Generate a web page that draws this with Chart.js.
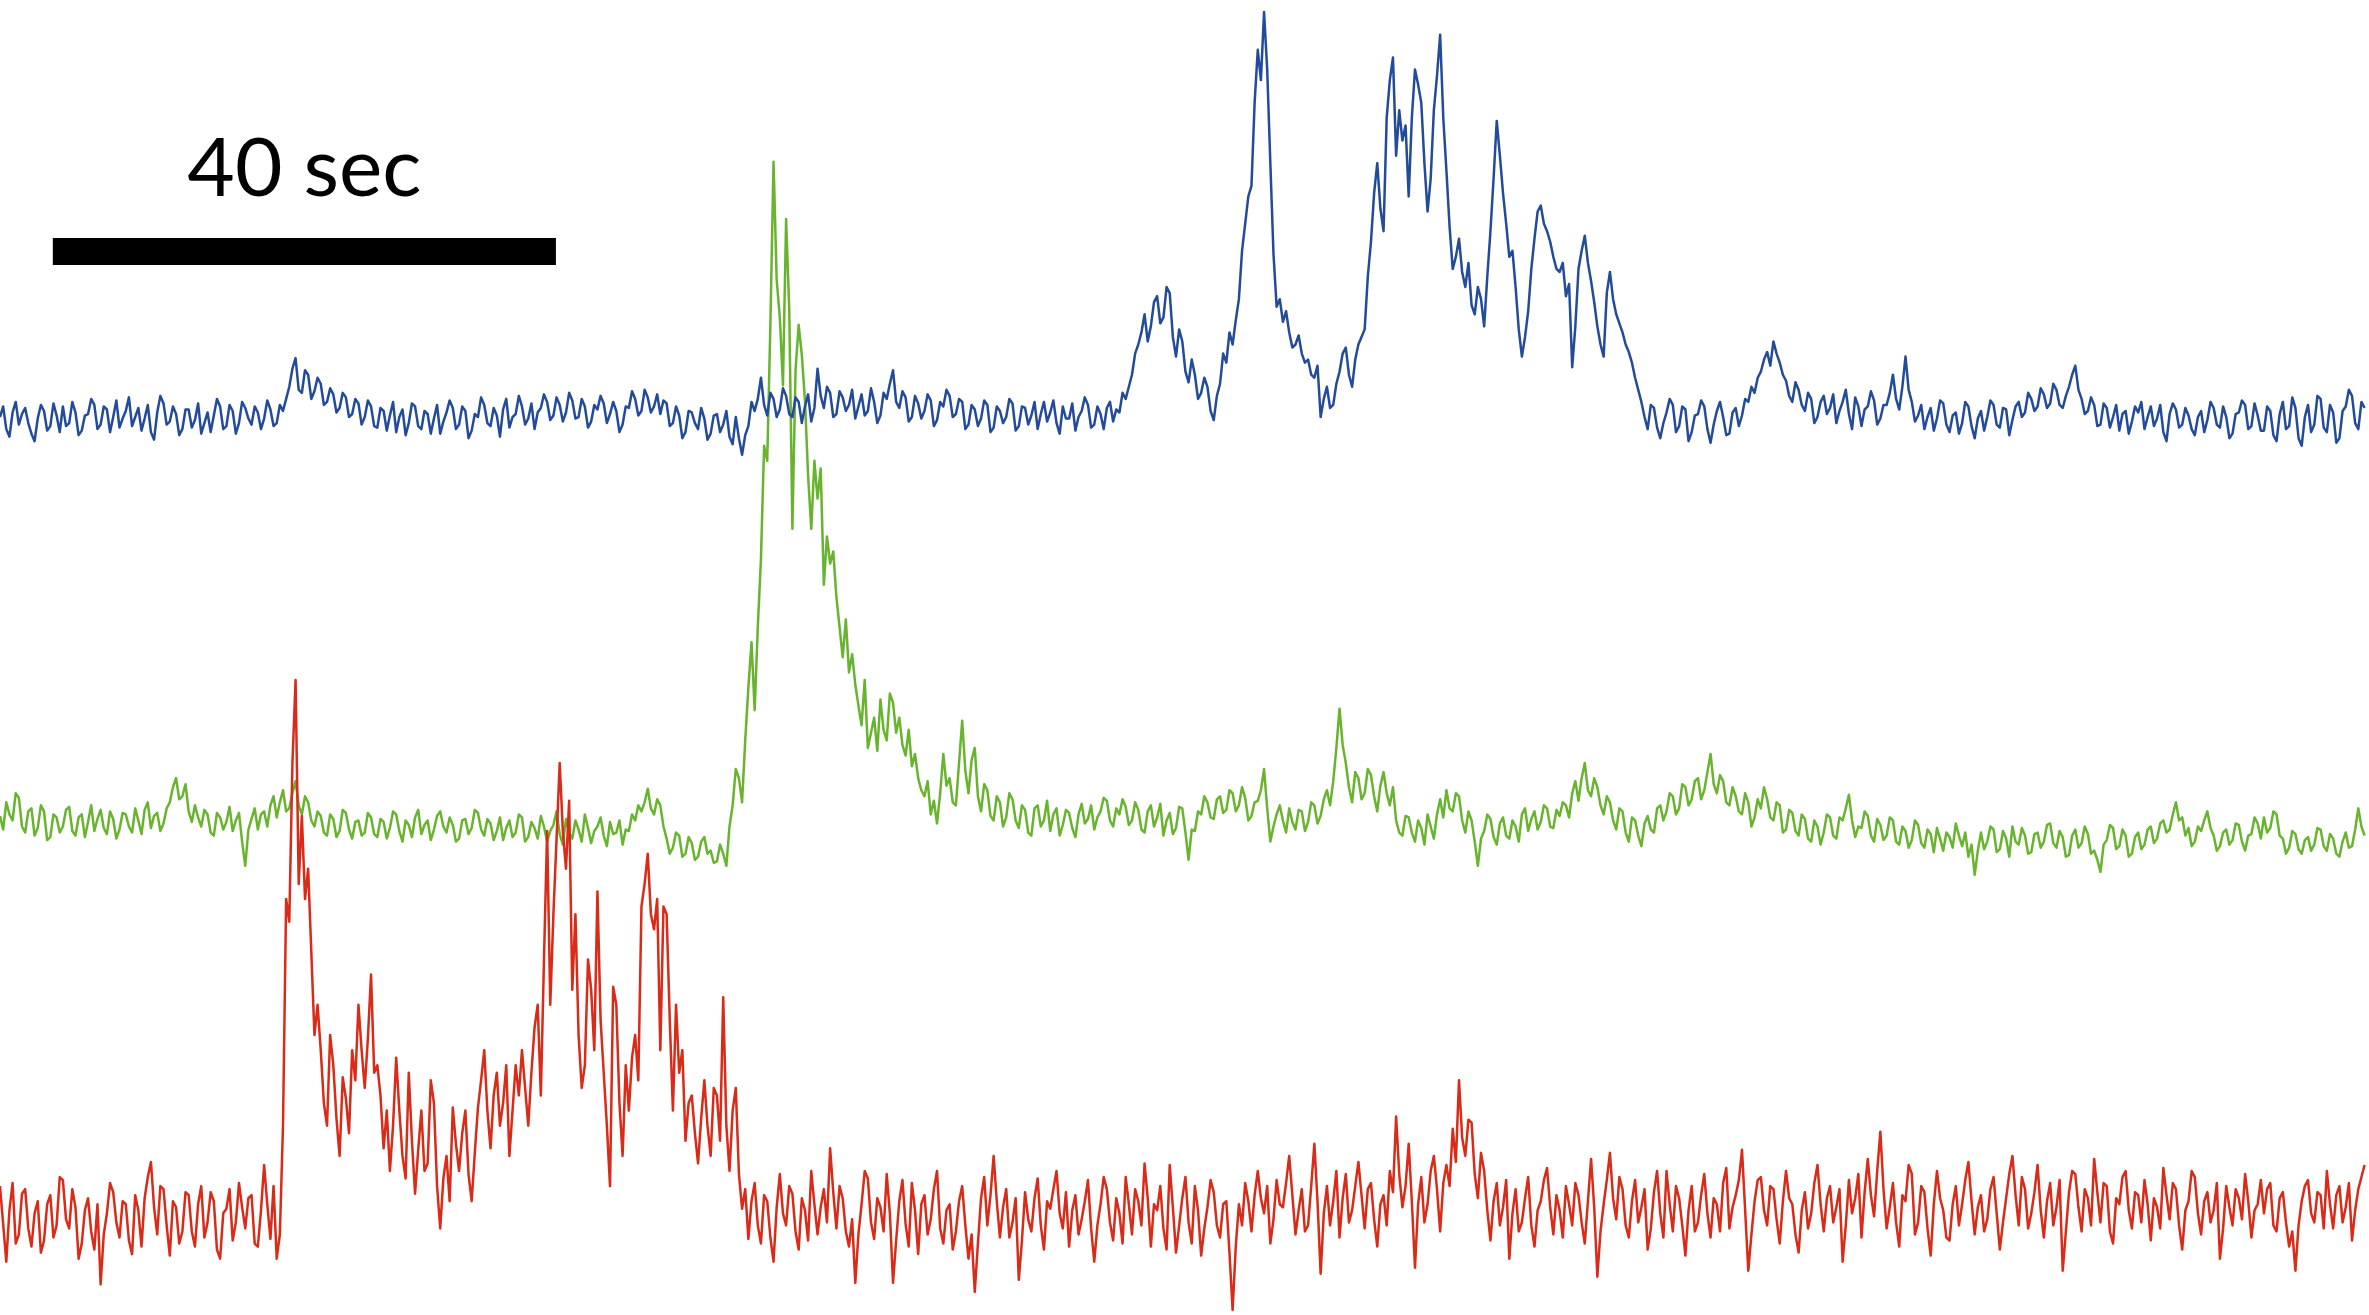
<!DOCTYPE html>
<html>
<head>
<meta charset="utf-8">
<title>Traces</title>
<script src="https://cdn.jsdelivr.net/npm/chart.js@4.4.1/dist/chart.umd.min.js"></script>
<style>
    html, body { margin: 0; padding: 0; background: #ffffff; }
    #wrap { position: relative; width: 2369px; height: 1315px; }
</style>
</head>
<body>
<div id="wrap"><canvas id="traceChart"></canvas></div>
<script>
// --- Data ---
// one sample every 0.25 s, values are signal height above each trace's baseline
const sampleStep = 0.25;

const blueTrace = [
    2, 9, -6, -11, 5, 12, -3, 4, 8, -2, -9, -14, 1, 10, 6, -7, -4, 11, 3, -8,
    9, -4, -2, 12, 5, -10, -7, 3, 4, 14, 10, -6, -3, 9, 7, -8, 2, 13, -5, 1,
    6, 15, -4, 2, 8, -7, 1, 10, -8, -13, 5, 16, 11, -3, -1, 9, 4, -10, -6, 7,
    7, -5, 0, 11, -9, -2, 5, -8, 3, 14, 9, -6, -4, 10, 6, -9, -2, 12, 8, 1,
    -3, 9, 5, -6, 1, 13, 7, -4, -2, 10, 6, 14, 22, 34, 41, 20, 18, 33, 30, 14,
    19, 28, 24, 10, 12, 21, 17, 5, 8, 18, 15, 2, 4, 14, 11, -3, 2, 13, 9, -4,
    -5, 8, 6, -7, 3, 12, -8, 2, 7, -10, -2, 11, 9, -4, -6, 6, 4, -9, 1, 10,
    -9, -1, 5, 13, 8, -6, -3, 9, 6, -12, -7, 4, 2, 15, 10, -2, -4, 8, 3, -11,
    7, 14, -5, 2, 4, 16, 9, -3, 1, 11, -6, 5, 8, 17, 12, 0, 3, 15, 10, -1,
    5, 18, 13, 1, 2, 14, 9, -5, -1, 10, 7, 16, 11, -2, 4, 12, 6, -8, -3, 9,
    8, 19, 14, 3, 6, 20, 15, 5, 9, 17, 4, 13, 11, -4, -2, 9, 3, -12, -8, 6,
    5, -2, -6, 8, 1, -13, -9, 3, 4, -8, -3, 6, -11, -16, 2, -12, -23, -10, -4, 12,
    6, 14, 28, 10, 3, 18, 14, 2, 7, 21, 16, 4, 2, 15, 12, -2, 9, 17, -1, 8,
    34, 16, 8, 22, 18, 2, 4, 19, 15, 6, 10, 20, 1, 9, 17, 3, 6, 21, 12, -2,
    3, 18, 14, 24, 33, 12, 8, 19, 15, -1, 2, 16, 11, 1, 6, 17, 13, -4, 0, 12,
    9, 20, 16, 2, 4, 14, 12, -6, -3, 10, 7, -4, 1, 13, 10, -8, -5, 9, 6, -2,
    2, 14, 11, -7, -4, 9, 8, -3, 3, 12, -6, 4, 12, -1, 5, 13, -2, -9, 9, 1,
    1, 11, -7, 2, 6, 15, 10, -5, -3, 9, 4, -6, 8, 12, -1, 7, 5, 18, 14, 22,
    30, 44, 50, 58, 70, 52, 62, 78, 82, 64, 68, 88, 84, 55, 42, 60, 52, 32, 25, 40,
    30, 14, 18, 28, 22, 6, 0, 16, 24, 44, 38, 58, 50, 66, 80, 112, 130, 148, 155, 210,
    245, 225, 270, 232, 170, 110, 75, 80, 65, 72, 58, 48, 50, 56, 44, 38, 40, 30, 28, 36,
    2, 14, 22, 8, 10, 24, 32, 44, 48, 30, 22, 40, 50, 55, 60, 95, 118, 150, 170, 140,
    125, 200, 225, 240, 175, 205, 185, 195, 148, 200, 232, 222, 210, 170, 138, 160, 205, 228, 255, 200,
    165, 128, 100, 108, 120, 98, 88, 104, 76, 70, 88, 80, 62, 95, 125, 160, 198, 175, 150, 130,
    108, 112, 88, 60, 42, 55, 72, 100, 120, 138, 142, 130, 125, 118, 108, 100, 98, 104, 82, 90,
    35, 62, 100, 112, 122, 104, 92, 78, 62, 50, 42, 84, 98, 80, 70, 64, 58, 50, 45, 38,
    28, 20, 12, 2, -6, 10, 8, -5, -12, -2, 5, 14, 10, -8, -4, 9, 7, -14, -8, 3,
    4, 13, 9, -6, -15, -3, 6, 12, 2, -10, -9, 5, 8, -4, 3, 14, 12, 22, 18, 28,
    32, 40, 45, 36, 52, 44, 38, 30, 26, 16, 12, 25, 20, 10, 6, 18, 14, -2, 2, 12,
    16, 4, 8, 17, -2, 6, 12, 20, 4, -6, 15, 9, -4, 7, 9, 19, 13, -3, 1, 10,
    10, 18, 30, 14, 7, 22, 42, 20, 12, -1, 3, 10, -6, 2, 8, -7, 1, 13, 11, -3,
    -8, 3, 5, -9, -2, 12, 9, -4, -12, 1, 6, -7, 2, 13, 10, -3, -5, 8, 7, -10,
    0, 9, 12, 2, 5, 18, 14, 6, 9, 21, 17, 8, 11, 24, 20, 10, 8, 16, 22, 30,
    36, 20, 14, 4, 6, 15, 10, -4, -3, 11, 8, -5, 2, 10, -7, 4, 6, -9, -1, 9,
    5, 12, -6, 2, 9, -4, 1, 10, -8, -14, 4, 11, 7, -5, -3, 8, 3, -6, -10, 2,
    6, -8, 0, 12, 8, -3, -5, 9, 2, -12, -9, 4, 5, 13, 10, -6, -4, 11, 3, -7,
    -7, 9, 6, -10, -14, 4, 12, -6, -4, 15, 8, -12, -17, 2, 10, -8, -3, 16, 14, -5,
    -8, 10, 5, -15, -12, 6, 9, 20, 16, -2, -6, 12, 8
];

const greenTrace = [
    5, -4, 14, 6, 2, 20, 17, -2, -6, 8, 10, -8, -3, 12, 8, -11, -9, 6, 4, -6,
    -2, 9, 11, -5, -8, 4, 6, -9, 1, 12, -5, 3, 9, -3, -7, 8, 3, -10, -4, 7,
    6, -2, -6, 10, 2, -7, 9, 14, -3, 5, 7, -5, 0, 10, 14, 24, 30, 16, 18, 26,
    8, 1, 12, 4, -2, 9, 6, -6, -8, 7, 4, -4, 1, 11, -5, 2, 7, -12, -28, -4,
    3, 10, -4, 6, 8, -2, 12, 18, 4, 14, 22, 8, 10, 20, 28, 12, 6, 18, 14, 2,
    -2, 8, 5, -6, -8, 6, 3, -9, -5, 9, 7, -4, -10, 1, 2, -8, -6, 7, 4, -7,
    -9, 3, 1, -10, -3, 8, 6, -5, -12, 2, -1, -9, 4, 9, -7, -1, 2, -11, -4, 5,
    8, -2, -6, 4, -1, -12, -10, 2, 3, -7, -3, 9, 7, -4, -8, 3, 0, -11, -5, 4,
    -11, -3, 2, -9, -6, 6, 4, -12, -9, 1, -3, -10, 5, -2, -12, -5, -1, 8, -7, -14,
    3, -6, -10, 2, -4, -12, 6, -3, -13, -5, -2, 4, -8, -15, 1, -7, -6, 2, -14, -4,
    -5, 6, 2, 12, 8, 14, 23, 10, 6, 16, 12, -2, -10, -20, -16, -6, -8, -22, -20, -9,
    -13, -24, -22, -12, -9, -20, -18, -26, -25, -14, -20, -28, -2, 12, 36, 30, 14, 55, 90, 120,
    75, 130, 175, 250, 240, 330, 438, 360, 335, 290, 400, 340, 195, 300, 330, 310, 280, 230, 195, 240,
    215, 235, 158, 190, 172, 180, 150, 130, 110, 135, 100, 112, 92, 78, 65, 95, 50, 60, 70, 48,
    82, 62, 55, 86, 80, 60, 70, 52, 45, 62, 38, 46, 30, 22, 18, 28, 6, 15, 0, 20,
    46, 25, 30, 14, 12, 40, 68, 35, 20, 42, 50, 18, 8, 26, 22, 5, 2, 18, 14, -2,
    4, 20, 16, 2, -3, 12, 9, -6, -8, 10, 12, -2, 2, 15, -5, 6, 10, -8, -1, 9,
    7, -3, -9, 6, 13, 0, 3, 12, -4, 4, 8, 17, 15, 2, -2, 10, 6, 16, 11, -1,
    2, 14, 9, -4, -6, 8, 12, -2, 4, 13, -8, 2, 7, -7, -3, 11, 10, -6, -24, -4,
    -5, 8, 6, 18, 14, 4, 3, 16, 18, 7, 9, 22, 20, 8, 12, 24, 17, 2, 5, 14,
    15, 22, 36, 10, -12, -2, 6, 12, 2, -6, 10, 1, -4, 9, 8, -5, 1, 14, 12, 0,
    5, 16, 22, 12, 28, 50, 76, 52, 40, 24, 14, 34, 30, 16, 20, 36, 32, 18, 8, 25,
    34, 20, 12, 24, 2, -6, -8, 5, 4, -6, -12, 2, -3, -14, 6, -2, -10, 6, 16, 4,
    22, 10, 8, 20, 18, 2, -6, 8, 2, -12, -28, -10, -5, 6, 3, -9, -14, 0, 4, -8,
    -10, 2, -2, -12, 6, 10, -5, 3, 8, -4, 1, 12, 10, -2, -3, 9, 5, 14, 12, 4,
    20, 28, 15, 30, 40, 22, 18, 30, 24, 12, 6, 18, 14, 2, -4, 10, 8, -6, -12, 4,
    2, -8, -15, 0, 5, -4, -6, 10, 12, 2, 8, 20, 18, 6, 10, 26, 24, 12, 16, 28,
    30, 16, 22, 34, 46, 26, 20, 32, 28, 14, 12, 24, 18, 8, 6, 20, 14, -2, 4, 16,
    10, 24, 16, 4, 2, 14, 12, -6, -4, 9, 7, -5, -8, 6, 3, -10, -12, 2, -2, -14,
    -6, 6, 4, -8, -10, 4, 2, 10, 19, 2, -9, -2, -3, 8, 5, -8, -12, 3, -1, -11,
    -8, 4, 2, -12, -14, -2, -5, -16, -11, 2, -1, -13, -16, -4, -7, -19, -3, -10, -18, -6,
    -9, -16, 0, -8, -15, -6, -22, -14, -34, -18, -6, -17, -12, -2, -4, -19, -17, -5, -10, -22,
    -2, -12, -14, -3, -8, -20, -19, -7, -6, -16, -12, -1, 0, -13, -16, -5, -9, -22, -21, -8,
    -4, -16, -13, -2, -7, -20, -18, -24, -32, -14, -11, -1, -3, -17, -15, -4, -8, -22, -20, -9,
    -6, -17, -14, -4, -2, -13, -10, 0, 2, -6, -4, 6, 14, 2, 4, -8, -3, -15, -12, -2,
    -5, 2, 8, -3, -8, -18, -15, -6, -4, -14, -11, 0, -1, -12, -18, -8, -7, 4, 0, -10,
    4, -6, -3, 8, 6, -8, -10, -20, -16, -5, -7, -17, -20, -11, -9, -18, -14, -3, -4, -15,
    -18, -7, -10, -20, -22, -12, -6, -16, -15, -4, 10, -2, -8
];

const redTrace = [
    20, -5, -30, 4, 22, -18, -12, 15, 18, -8, -20, 2, 10, -24, -16, 8, 14, -14, -6, 26,
    24, -2, -8, 18, 6, -28, -18, 4, 12, -10, -22, 8, -45, -12, 2, 22, 16, -4, -14, 10,
    8, -16, -25, 14, 4, -20, 12, 26, 36, 6, -12, 20, 18, -6, -26, 10, 6, -18, -10, 16,
    14, -10, -20, 8, 20, -14, -4, 16, 10, -22, -28, 2, 5, 18, -16, -4, 22, 6, -8, 12,
    14, -18, -20, 4, 34, 8, -15, 20, -28, -12, 60, 210, 195, 300, 355, 220, 265, 210, 230, 175,
    120, 140, 110, 75, 60, 120, 100, 65, 40, 92, 78, 55, 110, 90, 140, 110, 85, 118, 160, 95,
    100, 80, 45, 70, 30, 60, 105, 70, 40, 25, 95, 50, 15, 44, 70, 30, 35, 90, 75, 20,
    -8, 25, 40, 10, 72, 48, 30, 55, 70, 28, 10, 42, 72, 90, 110, 70, 45, 80, 95, 60,
    75, 100, 40, 70, 100, 80, 110, 85, 60, 95, 125, 140, 80, 170, 255, 140, 200, 250, 300, 255,
    230, 275, 150, 200, 120, 85, 100, 170, 150, 110, 215, 130, 95, 60, 20, 152, 140, 75, 40, 100,
    70, 105, 120, 90, 205, 220, 240, 200, 190, 210, 110, 205, 200, 130, 70, 140, 95, 110, 50, 75,
    80, 55, 35, 65, 90, 60, 40, 85, 80, 50, 145, 60, 30, 70, 85, 28, 5, 18, -15, 10,
    22, -6, -18, 14, 10, -14, -30, 6, 28, 2, -6, 20, 15, -10, -22, 12, 4, -16, 30, 8,
    -12, 6, 18, -4, 45, 16, -8, 20, 12, -10, -20, -2, -44, -12, 8, 30, 25, -4, -15, 12,
    6, -10, 28, 2, -44, -16, 10, 24, -5, -20, 22, 4, -25, 8, 14, -12, -2, 18, 30, -8,
    -18, 4, 8, -22, -10, 10, 20, -6, -28, -12, -50, -18, 12, 26, -6, 14, 40, 10, -14, 6,
    18, -14, -4, 12, -42, -16, 16, -2, -10, 12, 25, -6, -22, 10, 5, 18, 30, 2, -8, 16,
    -20, 4, 14, -12, -2, 10, 24, -8, -30, -6, 8, 26, 18, -4, -16, 12, 2, -18, 26, 8,
    -12, 18, 10, -6, 35, 12, -20, 8, 4, 20, -8, -22, 34, 6, -24, -6, 12, 26, -4, -18,
    20, 4, -26, -8, 6, 24, 16, -6, -14, 8, 10, -24, -62, -20, 8, -6, 22, 10, -10, 14,
    30, 12, 2, 20, -18, -2, 24, 8, 6, 22, 40, 14, -12, 4, 18, -10, -6, 20, 48, 10,
    -38, 2, 20, -6, 10, 30, -14, 12, 28, -4, 4, 20, 36, 14, -8, 18, 22, -2, -20, 8,
    14, -6, 30, 16, 66, 28, 6, 20, 48, 10, -34, 8, 26, -4, 8, 30, 40, 18, -10, 22,
    34, 20, 58, 36, 90, 52, 40, 64, 62, 28, 12, 42, 30, 4, -16, 10, 22, -6, 6, 24,
    -28, 2, 18, -10, -4, 12, 26, -6, -20, 4, 10, 24, 32, 6, -12, 14, 4, -14, 20, 8,
    -6, 22, 14, -4, -18, 10, 38, 6, -40, -10, 8, 24, 42, 12, -2, 26, 18, -6, -14, 10,
    24, -4, 6, 18, -22, -8, 16, 30, 2, -14, 30, 8, -10, 20, 12, -6, -26, 4, 20, -10,
    -4, 14, 28, 2, -14, 12, 8, -10, 22, 32, -8, 6, 14, 24, 44, 4, -36, -12, 10, 24,
    26, 4, -6, 20, 18, -2, -18, 10, 30, 12, 8, -12, -24, 4, 16, -8, 2, 22, 34, 8,
    -10, 12, 20, -4, 6, 18, -30, -6, 24, 2, 12, 28, -14, 16, 38, 14, 0, 30, 56, 18,
    -8, 6, 22, -4, -20, 14, 10, 34, 28, -12, -4, 20, 16, -8, -26, 8, 30, 12, 4, -14,
    -16, 8, 20, -6, 8, 24, 36, 10, -12, 6, 14, -10, -2, 18, 26, 2, -22, -4, 12, 28,
    40, 14, -6, 26, 18, -8, 2, 16, 34, 4, -14, 10, 22, -6, 6, 24, -36, -10, 16, 30,
    28, 6, -10, 18, 12, -6, 38, 16, -4, 22, 20, -10, -18, 12, 8, 26, 30, 4, -8, 16,
    14, -4, 24, 8, -16, 12, 6, -8, 32, 14, -2, 22, 18, -6, -22, 4, 10, 30, 26, 2,
    -12, 10, 16, -4, 4, 22, -28, -8, 20, 6, -6, 18, 12, -2, 28, 10, -14, 4, 8, 24,
    2, 18, 22, -6, -10, 12, 16, -4, -20, -10, -36, -6, 10, 20, 24, 2, -4, 16, 14, -8,
    30, 8, -8, 14, 20, -4, 6, 22, -16, 4, 18, 26, 34
];

// scale bar: start and end time in seconds, and its label
const scaleBarSec = [4.2, 44.2];
const scaleBarLabel = '40 sec';

// --- Layout ---
const totalSec = 188.35;     // visible time window
const panelUnits = 870.3;    // full canvas height in signal units
const baselines = { yBlue: 278, yGreen: 545, yRed: 805 };  // baseline, measured down from the top
const scaleBarLevel = 111.6; // on the blue axis
const labelLevel = 148;      // text baseline, on the blue axis

// --- Helpers ---
function toPoints(values) {
    return values.map((v, i) => ({ x: i * sampleStep, y: v }));
}

function traceAxis(key) {
    return {
        type: 'linear',
        display: false,
        min: baselines[key] - panelUnits,
        max: baselines[key]
    };
}

// draws the "40 sec" text centred over the scale bar
const scaleLabelPlugin = {
    id: 'scaleLabel',
    afterDatasetsDraw(chart) {
        const { ctx, scales } = chart;
        const mid = (scaleBarSec[0] + scaleBarSec[1]) / 2;
        ctx.save();
        ctx.font = '82px Lato, "Open Sans", sans-serif';
        ctx.fillStyle = '#000000';
        ctx.textAlign = 'center';
        ctx.textBaseline = 'alphabetic';
        ctx.fillText(scaleBarLabel, scales.x.getPixelForValue(mid), scales.yBlue.getPixelForValue(labelLevel));
        ctx.restore();
    }
};

// --- Chart ---
const traceStyle = {
    borderWidth: 2.5,
    pointRadius: 0,
    tension: 0,
    fill: false,
    borderJoinStyle: 'round'
};

new Chart(document.getElementById('traceChart'), {
    type: 'line',
    data: {
        datasets: [
            {
                label: 'scale bar',
                data: scaleBarSec.map(s => ({ x: s, y: scaleBarLevel })),
                yAxisID: 'yBlue',
                borderColor: '#000000',
                borderWidth: 27,
                borderCapStyle: 'butt',
                pointRadius: 0
            },
            Object.assign({ label: 'red', data: toPoints(redTrace), yAxisID: 'yRed', borderColor: '#d92b17' }, traceStyle),
            Object.assign({ label: 'blue', data: toPoints(blueTrace), yAxisID: 'yBlue', borderColor: '#234b9b' }, traceStyle),
            Object.assign({ label: 'green', data: toPoints(greenTrace), yAxisID: 'yGreen', borderColor: '#68b42e' }, traceStyle)
        ]
    },
    options: {
        responsive: true,
        maintainAspectRatio: false,
        animation: false,
        layout: { padding: 0 },
        plugins: {
            legend: { display: false },
            tooltip: { enabled: false }
        },
        scales: {
            x: { type: 'linear', display: false, min: 0, max: totalSec },
            yBlue: traceAxis('yBlue'),
            yGreen: traceAxis('yGreen'),
            yRed: traceAxis('yRed')
        }
    },
    plugins: [scaleLabelPlugin]
});
</script>
</body>
</html>
